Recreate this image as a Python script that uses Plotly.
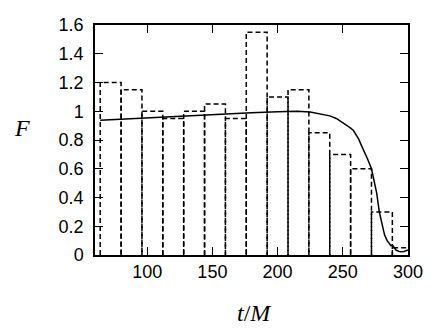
import plotly.graph_objects as go

# histogram (dashed boxes)
bin_left = [64, 80, 96, 112, 128, 144, 160, 176, 192, 208, 224, 240, 256, 272, 288]
bin_width = 16
bin_height = [1.2, 1.15, 1.0, 0.95, 1.0, 1.05, 0.95, 1.55, 1.1, 1.15, 0.85, 0.7, 0.6, 0.3, 0.05]

# smooth curve
curve_t = [64, 80, 100, 120, 140, 160, 180, 200, 215, 225, 235, 240, 245, 250, 255,
           258, 262, 264, 267, 269, 272, 274, 276, 278, 280, 282, 284, 286, 287, 288,
           289, 291, 294, 297, 300]
curve_f = [0.937, 0.945, 0.955, 0.963, 0.972, 0.98, 0.99, 0.997, 1.0, 0.995, 0.98, 0.968,
           0.95, 0.923, 0.89, 0.868, 0.81, 0.768, 0.71, 0.668, 0.6, 0.52, 0.43, 0.3, 0.21,
           0.14, 0.1, 0.075, 0.065, 0.07, 0.055, 0.033, 0.022, 0.025, 0.035]

x_ticks = [100, 150, 200, 250, 300]
y_ticks = [0, 0.2, 0.4, 0.6, 0.8, 1, 1.2, 1.4, 1.6]
y_labels = ["0", "0.2", "0.4", "0.6", "0.8", "1", "1.2", "1.4", "1.6"]

fig = go.Figure()

for l, h in zip(bin_left, bin_height):
    r = l + bin_width
    fig.add_trace(go.Scatter(
        x=[l, l, r, r], y=[0, h, h, 0], mode="lines",
        line=dict(color="black", width=1.5, dash="5px,3px"),
        showlegend=False, hoverinfo="skip"))

fig.add_trace(go.Scatter(x=curve_t, y=curve_f, mode="lines",
                         line=dict(color="black", width=1.5), showlegend=False))

axis_common = dict(showgrid=False, zeroline=False, showline=True, linecolor="black",
                   linewidth=1.5, mirror="ticks", ticks="inside", ticklen=8,
                   tickcolor="black", tickwidth=1.2, ticklabeloverflow="allow",
                   tickfont=dict(family="Liberation Sans", size=18, color="black"))

fig.update_xaxes(range=[60, 300], tickvals=x_ticks, **axis_common)
fig.update_yaxes(range=[0, 1.6], tickvals=y_ticks, ticktext=y_labels,
                 ticklabelstandoff=6, **axis_common)

# plot area is 313 x 240 px
fig.add_annotation(text="<i>F</i>", xref="paper", yref="paper", x=-0.234, y=0.55,
                   xanchor="center", yanchor="middle", showarrow=False,
                   font=dict(family="Liberation Serif", size=24, color="black"))
fig.add_annotation(text="<i>t</i>/<i>M</i>", xref="paper", yref="paper", x=0.51, y=-0.25,
                   xanchor="center", yanchor="middle", showarrow=False,
                   font=dict(family="Liberation Serif", size=24, color="black"))

# page body keeps its default 8px margin, so the figure is 8px smaller each way
fig.update_layout(width=428, height=326, plot_bgcolor="white", paper_bgcolor="white",
                  margin=dict(l=87, r=28, t=7, b=79))

fig.write_html("out.html")
